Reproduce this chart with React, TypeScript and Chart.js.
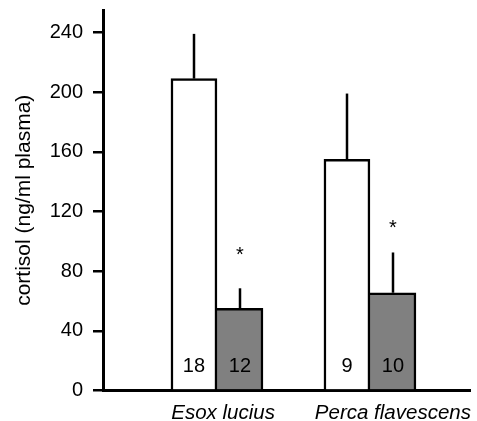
import React, { useEffect, useRef } from "react";
import { Chart, registerables } from "chart.js";

Chart.register(...registerables);

const categories = ["Esox lucius", "Perca flavescens"];
const controlMeans = [209, 155];
const controlSE = [30, 44];
const treatedMeans = [55, 65.5];
const treatedSE = [13.5, 27];
const controlN = [18, 9];
const treatedN = [12, 10];
const asteriskLevels = [87, 105];
const labelShift = [0.04, 0.15];
const yTicks = [0, 40, 80, 120, 160, 200, 240];

const FAMILY = "'Liberation Sans', Arial, Helvetica, sans-serif";

const annotPlugin = {
  id: "annot",
  afterDatasetsDraw(chart: any) {
    const ctx = chart.ctx;
    const ys = chart.scales.y;
    const xs = chart.scales.x;
    const sets: [number[], number[], number[]][] = [
      [controlMeans, controlSE, controlN],
      [treatedMeans, treatedSE, treatedN],
    ];
    ctx.save();
    sets.forEach((s, di) => {
      const meta = chart.getDatasetMeta(di);
      meta.data.forEach((bar: any, i: number) => {
        const top = ys.getPixelForValue(s[0][i] + s[1][i]);
        const bx = Math.round(bar.x);
        ctx.strokeStyle = "#000";
        ctx.lineWidth = 2.5;
        ctx.beginPath();
        ctx.moveTo(bx, bar.y);
        ctx.lineTo(bx, top);
        ctx.stroke();
        ctx.fillStyle = "#000";
        ctx.font = `20px ${FAMILY}`;
        ctx.textAlign = "center";
        ctx.textBaseline = "alphabetic";
        ctx.fillText(String(s[2][i]), bar.x, bar.base - 17);
        if (di === 1) {
          ctx.fillText("*", bar.x, ys.getPixelForValue(asteriskLevels[i]));
        }
      });
    });
    ctx.font = `italic 20.5px ${FAMILY}`;
    ctx.textAlign = "center";
    ctx.textBaseline = "alphabetic";
    ctx.fillStyle = "#000";
    categories.forEach((c, i) => {
      ctx.fillText(c, xs.getPixelForValue(i + labelShift[i]), chart.chartArea.bottom + 28);
    });
    ctx.restore();
  },
};

export default function App() {
  const ref = useRef<HTMLCanvasElement | null>(null);
  useEffect(() => {
    if (!ref.current) return;
    const chart = new Chart(ref.current, {
      type: "bar",
      data: {
        datasets: [
          {
            label: "control",
            data: controlMeans.map((v, i) => ({ x: i, y: v })),
            backgroundColor: "#ffffff",
            borderColor: "#000000",
            borderWidth: { top: 2.5, left: 2.5, right: 2.5, bottom: 0 },
            borderSkipped: false,
            barThickness: 46,
          },
          {
            label: "treated",
            data: treatedMeans.map((v, i) => ({ x: i, y: v })),
            backgroundColor: "#808080",
            borderColor: "#000000",
            borderWidth: { top: 2.5, left: 0, right: 2.5, bottom: 0 },
            borderSkipped: false,
            barThickness: 46,
          },
        ],
      } as any,
      options: {
        animation: false,
        responsive: false,
        maintainAspectRatio: false,
        layout: { padding: { left: 0, top: 10, right: 7, bottom: 0 } },
        plugins: { legend: { display: false }, tooltip: { enabled: false } },
        scales: {
          x: {
            type: "linear",
            min: -0.745,
            max: 1.654,
            offset: false,
            grid: { display: true, drawOnChartArea: false, drawTicks: false, offset: false },
            border: { display: true, color: "#000", width: 3 },
            ticks: { display: false },
            afterFit: (s: any) => {
              s.height = 30.5;
              s.paddingLeft = 0;
              s.paddingRight = 0;
            },
          },
          y: {
            type: "linear",
            min: 0,
            max: 255,
            afterBuildTicks: (s: any) => {
              s.ticks = yTicks.map((v) => ({ value: v }));
            },
            grid: {
              display: true,
              drawOnChartArea: false,
              drawTicks: true,
              tickLength: 10,
              color: "#000",
              lineWidth: 2.5,
            },
            border: { display: true, color: "#000", width: 3 },
            ticks: {
              color: "#000",
              padding: 10,
              font: { family: FAMILY, size: 20 },
            },
            title: {
              display: true,
              text: "cortisol (ng/ml plasma)",
              color: "#000",
              font: { family: FAMILY, size: 21 },
              padding: { top: 11.5, bottom: 0 },
            },
            afterFit: (s: any) => {
              s.width = 103;
              s.paddingTop = 0;
              s.paddingBottom = 0;
            },
          },
        },
      } as any,
      plugins: [annotPlugin],
    });
    return () => chart.destroy();
  }, []);
  return (
    <div style={{ position: "fixed", left: 0, top: 0, width: 477, height: 421, background: "#fff" }}>
      <canvas ref={ref} width={477} height={421} style={{ width: 477, height: 421 }} />
    </div>
  );
}
